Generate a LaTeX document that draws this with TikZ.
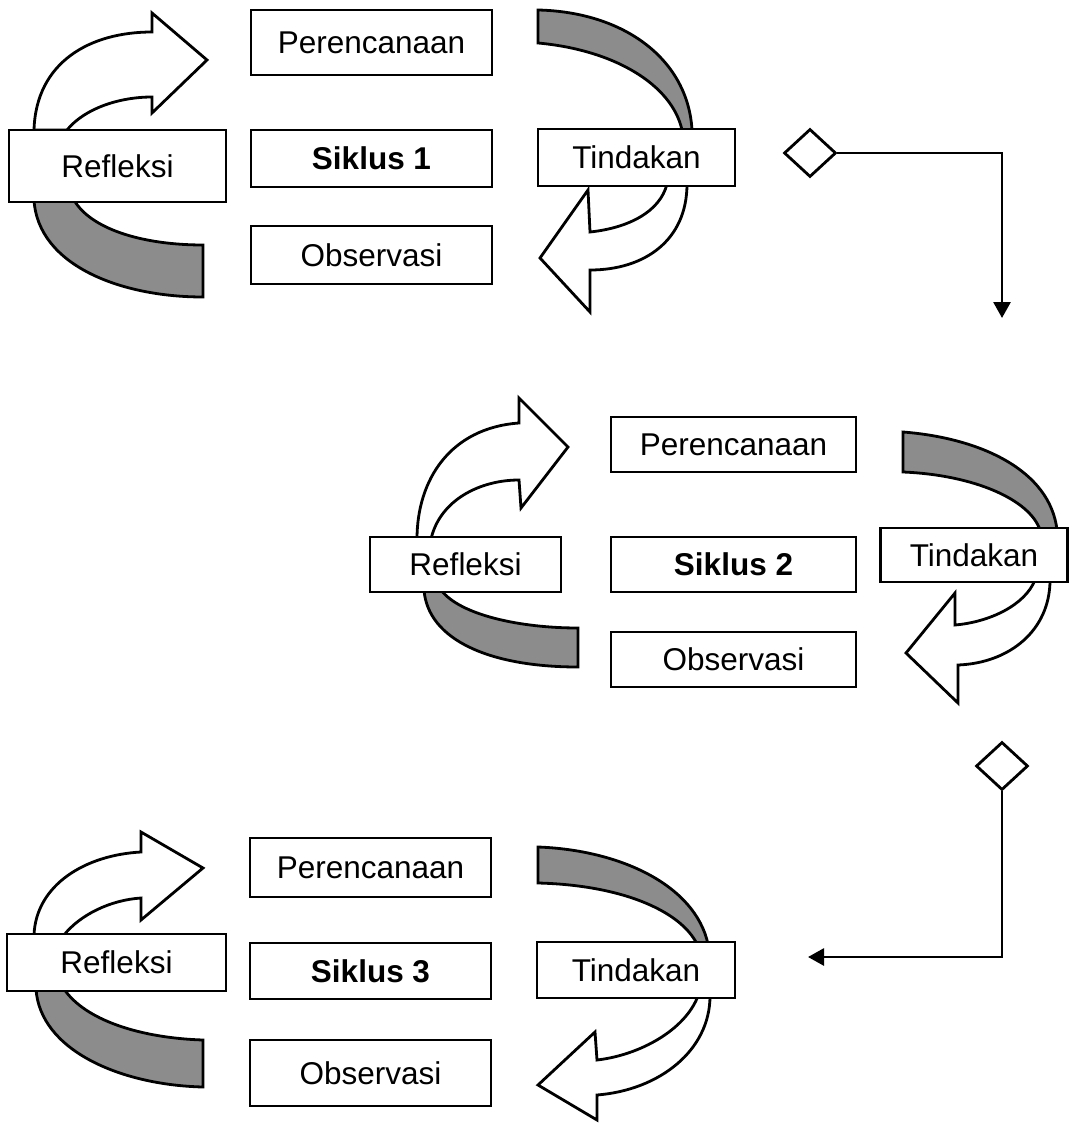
\documentclass[tikz,border=0pt]{standalone}
\usepackage{fontspec}
\setmainfont{Liberation Sans}
\usetikzlibrary{arrows.meta}
\usetikzlibrary{shapes.geometric}
\tikzset{>={Triangle[length=16pt,width=17pt]},
  box/.style = {draw=black,fill=white,inner sep=0pt,
    font=\fontsize{31.5}{36}\selectfont},
  boldbox/.style = {box,font=\fontsize{31.5}{36}\selectfont\bfseries},
  turn/.style = {draw=black,fill=white,line join=miter},
  shadeturn/.style = {draw=black,fill=black!45},
  gate/.style = {diamond,draw=black,fill=white,inner sep=0pt,
    minimum width=52pt,minimum height=48pt}
}

\begin{document}
\begin{tikzpicture}[x=1pt,y=-1pt,line width=2.8pt]
  \useasboundingbox (0,0) rectangle (1070,1123);

  % siklus 1
  \draw[turn] (34,130) .. controls (36,62) and (90,32) .. (152,32) -- (152,13)
    -- (207,60) -- (152,113) -- (152,97) .. controls (120,97) and (85,108) .. (67,130) -- cycle;
  \draw[shadeturn] (34,200) .. controls (38,265) and (120,297) .. (203,297) -- (203,245)
    .. controls (140,245) and (90,228) .. (74,200) -- cycle;
  \draw[shadeturn] (538,10) .. controls (625,12) and (688,60) .. (692,130) -- (682,130)
    .. controls (672,85) and (615,50) .. (538,43) -- cycle;
  \draw[turn] (687,184) .. controls (687,240) and (645,270) .. (590,270) -- (590,312)
    -- (540,258) -- (588,190) -- (590,232) .. controls (628,228) and (660,212) .. (667,184) -- cycle;

  \node[box,minimum width=241pt,minimum height=65pt] (ren1) at (371.5,42.5) {Perencanaan};
  \node[boldbox,minimum width=241pt,minimum height=57pt] (sik1) at (371.5,158.5) {Siklus 1};
  \node[box,minimum width=241pt,minimum height=58pt] (obs1) at (371.5,255) {Observasi};
  \node[box,minimum width=217pt,minimum height=72pt] (ref1) at (117.5,166) {Refleksi};
  \node[box,minimum width=197pt,minimum height=57pt] (tin1) at (636.5,157.5) {Tindakan};

  % siklus 2
  \draw[turn] (417,539) .. controls (417,480) and (450,428) .. (519,423) -- (519,398)
    -- (568,447) -- (521,508) -- (519,480) .. controls (480,480) and (440,500) .. (431,539) -- cycle;
  \draw[shadeturn] (424,590) .. controls (428,640) and (490,667) .. (578,667) -- (578,628)
    .. controls (520,628) and (460,615) .. (441,590) -- cycle;
  \draw[shadeturn] (903,432) .. controls (980,438) and (1050,470) .. (1057,530) -- (1040,530)
    .. controls (1030,500) and (975,475) .. (903,472) -- cycle;
  \draw[turn] (1050,580) .. controls (1050,630) and (1010,663) .. (958,665) -- (958,703)
    -- (906,653) -- (955,593) -- (955,625) .. controls (990,622) and (1025,605) .. (1035,580) -- cycle;

  \node[box,minimum width=245pt,minimum height=55pt] (ren2) at (733.5,444.5) {Perencanaan};
  \node[boldbox,minimum width=245pt,minimum height=55pt] (sik2) at (733.5,564.5) {Siklus 2};
  \node[box,minimum width=245pt,minimum height=55pt] (obs2) at (733.5,659.5) {Observasi};
  \node[box,minimum width=191pt,minimum height=55pt] (ref2) at (465.5,564.5) {Refleksi};
  \node[box,minimum width=187pt,minimum height=54pt] (tin2) at (974,555) {Tindakan};

  % siklus 3
  \draw[turn] (34,935) .. controls (36,885) and (85,855) .. (141,852) -- (141,832)
    -- (203,868) -- (141,920) -- (141,898) .. controls (110,900) and (80,915) .. (64,935) -- cycle;
  \draw[shadeturn] (36,989) .. controls (40,1050) and (120,1085) .. (203,1087) -- (203,1040)
    .. controls (140,1038) and (85,1020) .. (64,989) -- cycle;
  \draw[shadeturn] (538,847) .. controls (620,850) and (695,885) .. (708,944) -- (697,944)
    .. controls (680,910) and (620,885) .. (538,883) -- cycle;
  \draw[turn] (710,996) .. controls (710,1050) and (660,1090) .. (597,1095) -- (597,1120)
    -- (538,1085) -- (595,1032) -- (597,1060) .. controls (640,1055) and (685,1030) .. (698,996) -- cycle;

  \node[box,minimum width=241pt,minimum height=59pt] (ren3) at (370.5,867.5) {Perencanaan};
  \node[boldbox,minimum width=241pt,minimum height=56pt] (sik3) at (370.5,971) {Siklus 3};
  \node[box,minimum width=241pt,minimum height=66pt] (obs3) at (370.5,1073) {Observasi};
  \node[box,minimum width=219pt,minimum height=57pt] (ref3) at (116.5,962.5) {Refleksi};
  \node[box,minimum width=198pt,minimum height=56pt] (tin3) at (636,970) {Tindakan};

  % penghubung antar siklus
  \node[gate] (gate1) at (810,153) {};
  \node[gate] (gate2) at (1002,766) {};
  \coordinate (down1) at (1002,318);
  \coordinate (left3) at (808,957);
  \draw[->] (gate1.east) -| (down1);
  \draw[->] (gate2.south) |- (left3);
\end{tikzpicture}
\end{document}
